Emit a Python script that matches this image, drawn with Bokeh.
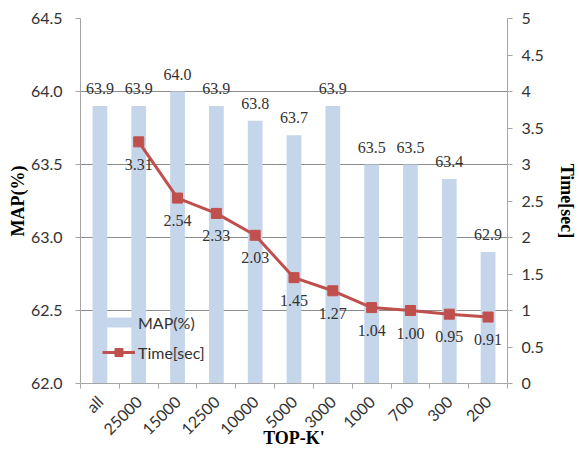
import math
from bokeh.plotting import figure
from bokeh.models import (Range1d, LinearAxis, FixedTicker, ColumnDataSource, LabelSet,
                          Legend, LegendItem, PrintfTickFormatter, CustomJSTickFormatter)
from bokeh.embed import file_html
from bokeh.resources import INLINE

# TOP-K' settings and their results
categories = ["all", "25000", "15000", "12500", "10000", "5000", "3000", "1000", "700", "300", "200"]
map_values = [63.9, 63.9, 64.0, 63.9, 63.8, 63.7, 63.9, 63.5, 63.5, 63.4, 62.9]
time_categories = categories[1:]
time_values = [3.31, 2.54, 2.33, 2.03, 1.45, 1.27, 1.04, 1.00, 0.95, 0.91]

map_ticks = [62.0, 62.5, 63.0, 63.5, 64.0, 64.5]
time_ticks = [0, 0.5, 1, 1.5, 2, 2.5, 3, 3.5, 4, 4.5, 5]
time_tick_labels = ["0", "0.5", "1", "1.5", "2", "2.5", "3", "3.5", "4", "4.5", "5"]

BAR_COLOR = "#C5D5EA"
LINE_COLOR = "#C0504D"
TEXT_COLOR = "#333333"
AXIS_GRAY = "#A6A6A6"
GRID_GRAY = "#8C8C8C"
FONT = "Lato"
TITLE_FONT = "Liberation Serif"

centers = [categories.index(c) + 0.5 for c in categories]
time_x = [categories.index(c) + 0.5 for c in time_categories]

bar_src = ColumnDataSource(dict(x=centers, top=map_values,
                                label=["%.1f" % v for v in map_values]))
time_src = ColumnDataSource(dict(x=time_x, y=time_values,
                                 label=["%.2f" % v for v in time_values]))

p = figure(width=579, height=450, output_backend="svg", toolbar_location=None,
           x_range=Range1d(0, len(categories)), y_range=Range1d(62.0, 64.5),
           min_border_left=80, min_border_right=69, min_border_top=18, min_border_bottom=67)
p.outline_line_color = None
p.background_fill_color = "white"
p.border_fill_color = "white"
p.extra_y_ranges = {"time": Range1d(0, 5)}

p.vbar(x="x", top="top", bottom=62.0, width=0.38, source=bar_src,
       fill_color=BAR_COLOR, line_color=None)
line = p.line(x="x", y="y", source=time_src, y_range_name="time",
              line_color=LINE_COLOR, line_width=3)
marks = p.scatter(x="x", y="y", source=time_src, y_range_name="time", marker="square",
                  size=10, fill_color=LINE_COLOR, line_color=LINE_COLOR)
# legend key for the bars: a thick short stroke; a single-point line draws nothing
bar_key = p.line(x=centers[:1], y=map_values[:1], line_color=BAR_COLOR, line_width=10)

p.add_layout(LabelSet(x="x", y="top", text="label", source=bar_src, text_align="center",
                      text_baseline="bottom", y_offset=12, text_font=FONT,
                      text_font_size="16px", text_color=TEXT_COLOR))
p.add_layout(LabelSet(x="x", y="y", text="label", source=time_src, y_range_name="time",
                      text_align="center", text_baseline="top", y_offset=-17,
                      text_font=FONT, text_font_size="16px", text_color=TEXT_COLOR))

# x axis: names at the bar centres, small tick marks between categories
xa = p.xaxis[0]
xa.ticker = FixedTicker(ticks=centers, minor_ticks=list(range(len(categories) + 1)))
xa.formatter = CustomJSTickFormatter(args=dict(names=categories),
                                     code="return names[Math.floor(tick)];")
xa.major_label_orientation = math.pi / 4
xa.major_tick_out = 0
xa.major_tick_in = 0
xa.minor_tick_out = 5
xa.minor_tick_in = 0
xa.minor_tick_line_color = AXIS_GRAY
xa.axis_line_color = AXIS_GRAY
xa.major_label_text_font = FONT
xa.major_label_text_font_size = "16px"
xa.major_label_text_color = TEXT_COLOR
xa.major_label_standoff = 10
xa.axis_label = "TOP-K'"
xa.axis_label_text_font = TITLE_FONT
xa.axis_label_text_font_style = "bold"
xa.axis_label_text_font_size = "18px"
xa.axis_label_text_color = "black"
xa.axis_label_standoff = -20

ya = p.yaxis[0]
ya.ticker = FixedTicker(ticks=map_ticks)
ya.formatter = PrintfTickFormatter(format="%.1f")
ya.axis_line_color = AXIS_GRAY
ya.major_tick_line_color = AXIS_GRAY
ya.major_tick_out = 5
ya.major_tick_in = 0
ya.minor_tick_line_color = None
ya.major_label_text_font = FONT
ya.major_label_text_font_size = "16px"
ya.major_label_text_color = TEXT_COLOR
ya.major_label_standoff = 13
ya.axis_label = "MAP(%)"
ya.axis_label_text_font = TITLE_FONT
ya.axis_label_text_font_style = "bold"
ya.axis_label_text_font_size = "18px"
ya.axis_label_text_color = "black"
ya.axis_label_standoff = 0

ra = LinearAxis(y_range_name="time", ticker=FixedTicker(ticks=time_ticks),
                major_label_overrides={t: s for t, s in zip(time_ticks, time_tick_labels)})
ra.axis_line_color = AXIS_GRAY
ra.major_tick_line_color = AXIS_GRAY
ra.major_tick_out = 5
ra.major_tick_in = 0
ra.minor_tick_line_color = None
ra.major_label_text_font = FONT
ra.major_label_text_font_size = "16px"
ra.major_label_text_color = TEXT_COLOR
ra.major_label_standoff = 9
ra.axis_label = "Time[sec]"
ra.axis_label_text_font = TITLE_FONT
ra.axis_label_text_font_style = "bold"
ra.axis_label_text_font_size = "18px"
ra.axis_label_text_color = "black"
ra.axis_label_standoff = 10
p.add_layout(ra, "right")

p.xgrid.visible = False
p.ygrid.ticker = FixedTicker(ticks=map_ticks)
p.ygrid.grid_line_color = GRID_GRAY
p.ygrid.grid_line_width = 1

legend = Legend(items=[LegendItem(label="MAP(%)", renderers=[bar_key]),
                       LegendItem(label="Time[sec]", renderers=[line, marks])],
                location=(22, 21), orientation="vertical")
legend.background_fill_alpha = 0
legend.border_line_color = None
legend.padding = 0
legend.margin = 0
legend.spacing = 10
legend.glyph_width = 33
legend.glyph_height = 20
legend.label_standoff = 3
legend.label_height = 20
legend.label_text_font = FONT
legend.label_text_font_size = "16px"
legend.label_text_color = TEXT_COLOR
p.add_layout(legend, "center")

open("out.html", "w").write(file_html(p, INLINE))
